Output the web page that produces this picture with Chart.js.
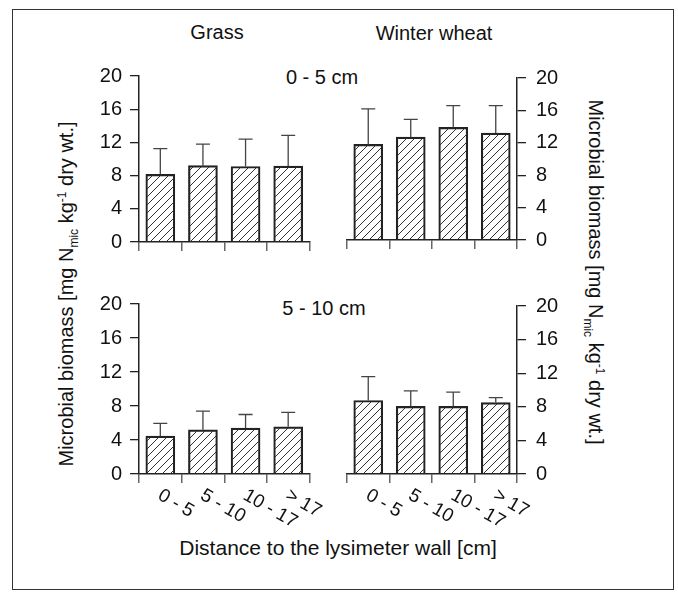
<!DOCTYPE html>
<html>
<head>
<meta charset="utf-8">
<script src="https://cdn.jsdelivr.net/npm/chart.js@4.4.0/dist/chart.umd.min.js"></script>
<style>
body { margin: 0; background: #fff; }
#wrap { position: relative; width: 678px; height: 599px; font-family: "Liberation Sans", Arial, sans-serif; color: #111; }
#frame { position: absolute; left: 12px; top: 9px; width: 660px; height: 579px; border: 1.5px solid #333; }
canvas { position: absolute; }
.lbl { position: absolute; transform: translate(-50%, -50%); white-space: nowrap; font-size: 20px; }
.ytitle { position: absolute; white-space: nowrap; font-size: 20px; }
.ytitle sub, .ytitle sup { font-size: 12px; }
</style>
</head>
<body>
<div id="wrap">
  <div id="frame"></div>
  <div class="lbl" style="left:217px; top:32px;">Grass</div>
  <div class="lbl" style="left:434px; top:33px;">Winter wheat</div>
  <div class="lbl" style="left:322px; top:77px;">0 - 5 cm</div>
  <div class="lbl" style="left:324px; top:308px;">5 - 10 cm</div>
  <div class="lbl" style="left:338px; top:548px; font-size:21px;">Distance to the lysimeter wall [cm]</div>
  <div class="ytitle" style="left:68px; top:294px; transform: translate(-50%,-50%) rotate(-90deg);">Microbial biomass [mg N<sub>mic</sub> kg<sup>-1</sup> dry wt.]</div>
  <div class="ytitle" style="left:594px; top:272px; transform: translate(-50%,-50%) rotate(90deg);">Microbial biomass [mg N<sub>mic</sub> kg<sup>-1</sup> dry wt.]</div>
  <canvas id="tl" width="240" height="206" style="left:80px; top:56px;"></canvas>
  <canvas id="tr" width="240" height="206" style="left:337px; top:56px;"></canvas>
  <canvas id="bl" width="256" height="256" style="left:80px; top:284px;"></canvas>
  <canvas id="br" width="240" height="256" style="left:337px; top:284px;"></canvas>
</div>
<script>
// distance classes (cm)
let distances = ["0 - 5", "5 - 10", "10 - 17", "> 17"];
let yTicks = [0, 4, 8, 12, 16, 20];

// microbial biomass N, 0 - 5 cm
let grassTop = [8.15, 9.2, 9.1, 9.15];
let grassTopSd = [3.1, 2.6, 3.3, 3.7];
let wheatTop = [11.8, 12.7, 13.9, 13.2];
let wheatTopSd = [4.4, 2.2, 2.7, 3.4];

// microbial biomass N, 5 - 10 cm
let grassSub = [4.45, 5.2, 5.4, 5.55];
let grassSubSd = [1.5, 2.2, 1.6, 1.7];
let wheatSub = [8.75, 8.05, 8.05, 8.5];
let wheatSubSd = [2.85, 1.85, 1.7, 0.6];

const font = "'Liberation Sans', Arial, sans-serif";

function hatch() {
    let c = document.createElement("canvas");
    c.width = 8;
    c.height = 8;
    let x = c.getContext("2d");
    x.strokeStyle = "#333";
    x.lineWidth = 1;
    x.beginPath();
    x.moveTo(0, 8); x.lineTo(8, 0);
    x.moveTo(-2, 2); x.lineTo(2, -2);
    x.moveTo(6, 10); x.lineTo(10, 6);
    x.stroke();
    return x.createPattern(c, "repeat");
}

// upper error bars only
const errorBars = {
    id: "errorBars",
    afterDatasetsDraw(chart) {
        let ctx = chart.ctx;
        let ys = chart.scales.y;
        chart.data.datasets.forEach((ds, di) => {
            chart.getDatasetMeta(di).data.forEach((bar, i) => {
                let top = ys.getPixelForValue(ds.data[i] + ds.sd[i]);
                ctx.save();
                ctx.strokeStyle = "#444";
                ctx.lineWidth = 1.3;
                ctx.beginPath();
                ctx.moveTo(bar.x, bar.y);
                ctx.lineTo(bar.x, top);
                ctx.moveTo(bar.x - 7, top);
                ctx.lineTo(bar.x + 7, top);
                ctx.stroke();
                ctx.restore();
            });
        });
    }
};

// slanted category labels, starting at the tick and running down-right
const slantLabels = {
    id: "slantLabels",
    afterDraw(chart) {
        if (!chart.options.slant) return;
        let ctx = chart.ctx;
        let xs = chart.scales.x;
        chart.data.labels.forEach((lab, i) => {
            let px = xs.getPixelForTick(i);
            ctx.save();
            ctx.translate(px - 1, xs.top + 20);
            ctx.rotate(Math.PI / 6);
            ctx.font = "19px " + font;
            ctx.fillStyle = "#111";
            ctx.textAlign = "left";
            ctx.textBaseline = "middle";
            ctx.fillText(lab, 0, 0);
            ctx.restore();
        });
    }
};

function makePanel(id, values, sd, side, slant) {
    let right = side === "right";
    let xh = slant ? 66 : 15;
    let pad = right ? { top: 20, left: 10, right: 0, bottom: 0 } : { top: 20, left: 0, right: slant ? 26.5 : 10.5, bottom: 0 };
    return new Chart(document.getElementById(id), {
        type: "bar",
        data: {
            labels: distances,
            datasets: [{
                data: values,
                sd: sd,
                backgroundColor: hatch(),
                borderColor: "#222",
                borderWidth: 1.5,
                barThickness: 29
            }]
        },
        options: {
            responsive: false,
            animation: false,
            slant: slant,
            layout: { padding: pad },
            plugins: { legend: { display: false }, tooltip: { enabled: false } },
            scales: {
                x: {
                    offset: true,
                    grid: { drawOnChartArea: false, drawTicks: true, tickLength: 9, color: "#666", lineWidth: 1.5 },
                    border: { display: true, color: "#222", width: 1.5 },
                    ticks: { display: false },
                    afterFit: (s) => { s.height = xh; }
                },
                y: {
                    position: side,
                    min: 0,
                    max: 20,
                    afterBuildTicks: (s) => { s.ticks = yTicks.map(v => ({ value: v })); },
                    grid: { drawOnChartArea: false, drawTicks: true, tickLength: 9, color: "#222", lineWidth: 1.3 },
                    border: { display: true, color: "#222", width: 1.5 },
                    ticks: { color: "#111", padding: right ? 10 : 8, font: { size: 20, family: font } },
                    afterFit: (s) => { s.width = right ? 60 : 59; }
                }
            }
        },
        plugins: [errorBars, slantLabels]
    });
}

makePanel("tl", grassTop, grassTopSd, "left", false);
makePanel("tr", wheatTop, wheatTopSd, "right", false);
makePanel("bl", grassSub, grassSubSd, "left", true);
makePanel("br", wheatSub, wheatSubSd, "right", true);
</script>
</body>
</html>
